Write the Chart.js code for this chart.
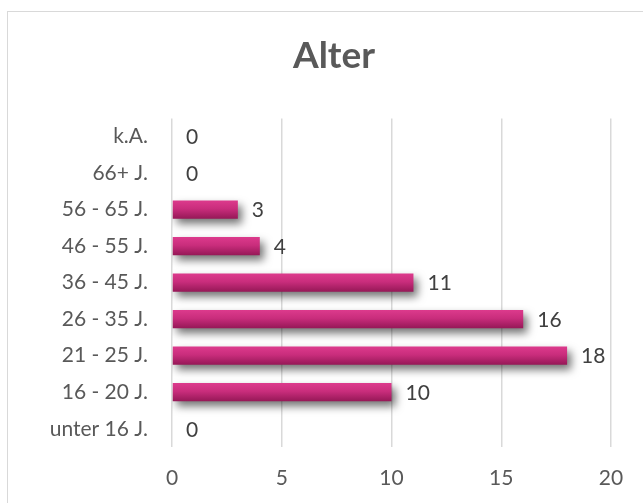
<!DOCTYPE html>
<html>
<head>
<meta charset="utf-8">
<script src="https://cdn.jsdelivr.net/npm/chart.js@4/dist/chart.umd.min.js"></script>
<style>
  html, body { margin: 0; padding: 0; background: #fff; overflow: hidden; }
  #frame { position: absolute; left: 7px; top: 11px; width: 700px; height: 600px; border: 1.5px solid #d9d9d9; }
  #wrap { position: absolute; left: 0; top: 0; width: 643px; height: 503px; }
</style>
</head>
<body>
<div id="frame"></div>
<div id="wrap"><canvas id="ageChart" width="643" height="503"></canvas></div>
<script>
// Daten
const categories = ['k.A.', '66+ J.', '56 - 65 J.', '46 - 55 J.', '36 - 45 J.', '26 - 35 J.', '21 - 25 J.', '16 - 20 J.', 'unter 16 J.'];
const values = [0, 0, 3, 4, 11, 16, 18, 10, 0];
const xTicks = [0, 5, 10, 15, 20];

const FONT = "'Lato', 'Open Sans', sans-serif";
const TEXT = '#595959';

// Schatten, Titel-Position + Werte neben den Balken
const barDecor = {
    id: 'barDecor',
    afterLayout(chart) {
        // Titel etwas nach rechts (wie im Original)
        const t = chart.titleBlock;
        if (t) { t.left = 57; t.right = 611; t.width = t.right - t.left; }
    },
    beforeDatasetDraw(chart) {
        const c = chart.ctx;
        c.save();
        c.shadowColor = 'rgba(0,0,0,0.55)';
        c.shadowBlur = 8;
        c.shadowOffsetX = 4;
        c.shadowOffsetY = 5;
    },
    afterDatasetDraw(chart) {
        chart.ctx.restore();
    },
    afterDatasetsDraw(chart) {
        const c = chart.ctx;
        const meta = chart.getDatasetMeta(0);
        c.save();
        c.font = '21px ' + FONT;
        c.fillStyle = '#404040';
        c.textBaseline = 'middle';
        c.textAlign = 'left';
        meta.data.forEach((bar, i) => {
            c.fillText(String(values[i]), bar.x + 14, bar.y + 1);
        });
        c.restore();
    }
};

function barGradient(context) {
    const chart = context.chart;
    const yScale = chart.scales && chart.scales.y;
    if (!chart.chartArea || !yScale) return '#c92d7c';
    const yc = yScale.getPixelForValue(context.dataIndex);
    if (!Number.isFinite(yc)) return '#c92d7c';
    const h = 9;
    const g = chart.ctx.createLinearGradient(0, yc - h, 0, yc + h);
    g.addColorStop(0, '#dc3a8c');
    g.addColorStop(0.45, '#c92d7c');
    g.addColorStop(1, '#961857');
    return g;
}

const ctx = document.getElementById('ageChart');
new Chart(ctx.getContext('2d'), {
    type: 'bar',
    data: {
        labels: categories,
        datasets: [{
            data: values,
            backgroundColor: barGradient,
            borderWidth: 0,
            barPercentage: 0.5,
            categoryPercentage: 1.0
        }]
    },
    options: {
        indexAxis: 'y',
        responsive: false,
        animation: false,
        layout: { padding: { left: 0, right: 32, top: 0, bottom: 0 } },
        plugins: {
            legend: { display: false },
            tooltip: { enabled: false },
            title: {
                display: true,
                text: 'Alter',
                color: TEXT,
                font: { family: FONT, size: 37, weight: 'bold' },
                padding: { top: 34, bottom: 40 }
            }
        },
        scales: {
            x: {
                min: 0,
                max: 20,
                afterBuildTicks(scale) {
                    scale.ticks = xTicks.map(v => ({ value: v }));
                },
                afterFit(scale) { scale.height = 56; },
                grid: { color: '#d9d9d9', lineWidth: 1.5, drawTicks: false },
                border: { display: false },
                ticks: { color: TEXT, padding: 19, font: { family: FONT, size: 21 } }
            },
            y: {
                afterFit(scale) { scale.width = 172; },
                grid: { display: false, drawTicks: false },
                border: { display: false },
                ticks: { color: TEXT, padding: 24, font: { family: FONT, size: 21 } }
            }
        }
    },
    plugins: [barDecor]
});
</script>
</body>
</html>
